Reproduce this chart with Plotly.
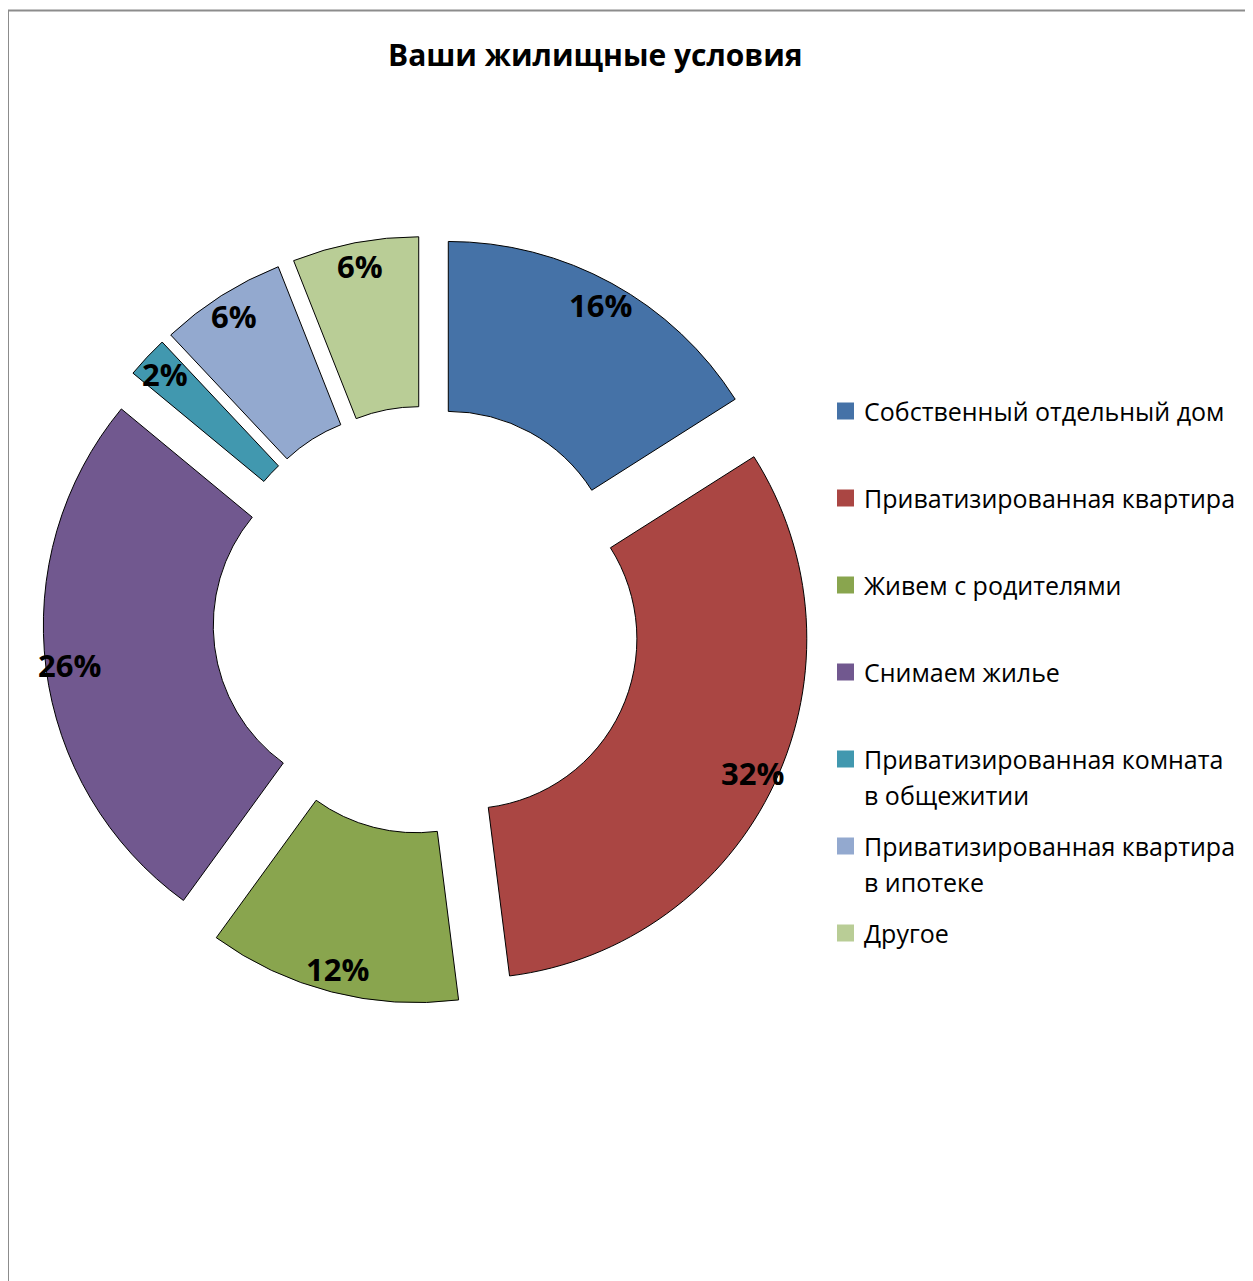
import math
import plotly.graph_objects as go

# ---- data ----
categories = [
    "Собственный отдельный дом",
    "Приватизированная квартира",
    "Живем с родителями",
    "Снимаем жилье",
    "Приватизированная комната в общежитии",
    "Приватизированная квартира в ипотеке",
    "Другое",
]
legend_lines = [
    ["Собственный отдельный дом"],
    ["Приватизированная квартира"],
    ["Живем с родителями"],
    ["Снимаем жилье"],
    ["Приватизированная комната", "в общежитии"],
    ["Приватизированная квартира", "в ипотеке"],
    ["Другое"],
]
values = [16, 32, 12, 26, 2, 6, 6]
title_text = "Ваши жилищные условия"

# ---- style ----
colors = ["#4572A7", "#AA4643", "#89A54E", "#71588F", "#4198AF", "#93A9CF", "#B9CD96"]
SCREEN_W, SCREEN_H = 1253, 1281
OFF = 8  # page body margin
W, H = SCREEN_W - OFF, SCREEN_H - OFF
FONT = "Open Sans"

cx, cy = 427.0, 620.0       # pie centre (screen px)
half = 384.0                # outer extent incl. pull (px)
pull = 0.13
hole = 0.5

def px(x):
    return (x - OFF) / W

def py(y):
    return 1 - (y - OFF) / H

fig = go.Figure()
fig.add_trace(go.Pie(
    labels=categories,
    values=values,
    sort=False,
    direction="clockwise",
    rotation=0,
    hole=hole,
    pull=[pull] * len(values),
    marker=dict(colors=colors, line=dict(color="#000000", width=1)),
    textinfo="none",
    hoverinfo="label+percent",
    showlegend=False,
    domain=dict(x=[px(cx - half), px(cx + half)], y=[py(cy + half), py(cy - half)]),
))

annotations = []
# percent labels computed from values at mid-angles
total = sum(values)
r_label = 360.0
cum = 0
for v in values:
    mid = (cum + v / 2) / total * 2 * math.pi
    cum += v
    lx = cx + r_label * math.sin(mid)
    ly = cy - r_label * math.cos(mid)
    annotations.append(dict(
        x=px(lx), y=py(ly), xref="paper", yref="paper",
        text=f"{round(v / total * 100)}%", showarrow=False,
        xanchor="center", yanchor="middle",
        font=dict(family=FONT, size=31, color="#000000", weight="bold"),
    ))

# title
annotations.append(dict(
    x=px(595), y=py(55), xref="paper", yref="paper", text=title_text,
    showarrow=False, xanchor="center", yanchor="middle",
    font=dict(family=FONT, size=30, color="#000000", weight="bold"),
))

shapes = []
# legend
leg_x_box, leg_box = 837, 17
leg_x_text = 862
leg_y0, leg_step, line_step = 411, 87, 36
for i, (lines, col) in enumerate(zip(legend_lines, colors)):
    y = leg_y0 + leg_step * i
    shapes.append(dict(
        type="rect", xref="paper", yref="paper",
        x0=px(leg_x_box), x1=px(leg_x_box + leg_box),
        y0=py(y + leg_box / 2), y1=py(y - leg_box / 2),
        fillcolor=col, line=dict(width=0),
    ))
    for j, t in enumerate(lines):
        annotations.append(dict(
            x=px(leg_x_text), y=py(y + j * line_step), xref="paper", yref="paper",
            text=t, showarrow=False, xanchor="left", yanchor="middle",
            font=dict(family=FONT, size=25, color="#000000"),
        ))

# outer chart frame
shapes.append(dict(
    type="rect", xref="paper", yref="paper",
    x0=px(8), x1=px(SCREEN_W + 30), y0=py(SCREEN_H + 30), y1=py(10.5),
    line=dict(color="#8C8C8C", width=2), fillcolor="rgba(0,0,0,0)",
))

fig.update_layout(
    width=W, height=H,
    margin=dict(l=0, r=0, t=0, b=0),
    paper_bgcolor="#FFFFFF",
    plot_bgcolor="#FFFFFF",
    annotations=annotations,
    shapes=shapes,
    font=dict(family=FONT),
)

fig.write_html("out.html")
